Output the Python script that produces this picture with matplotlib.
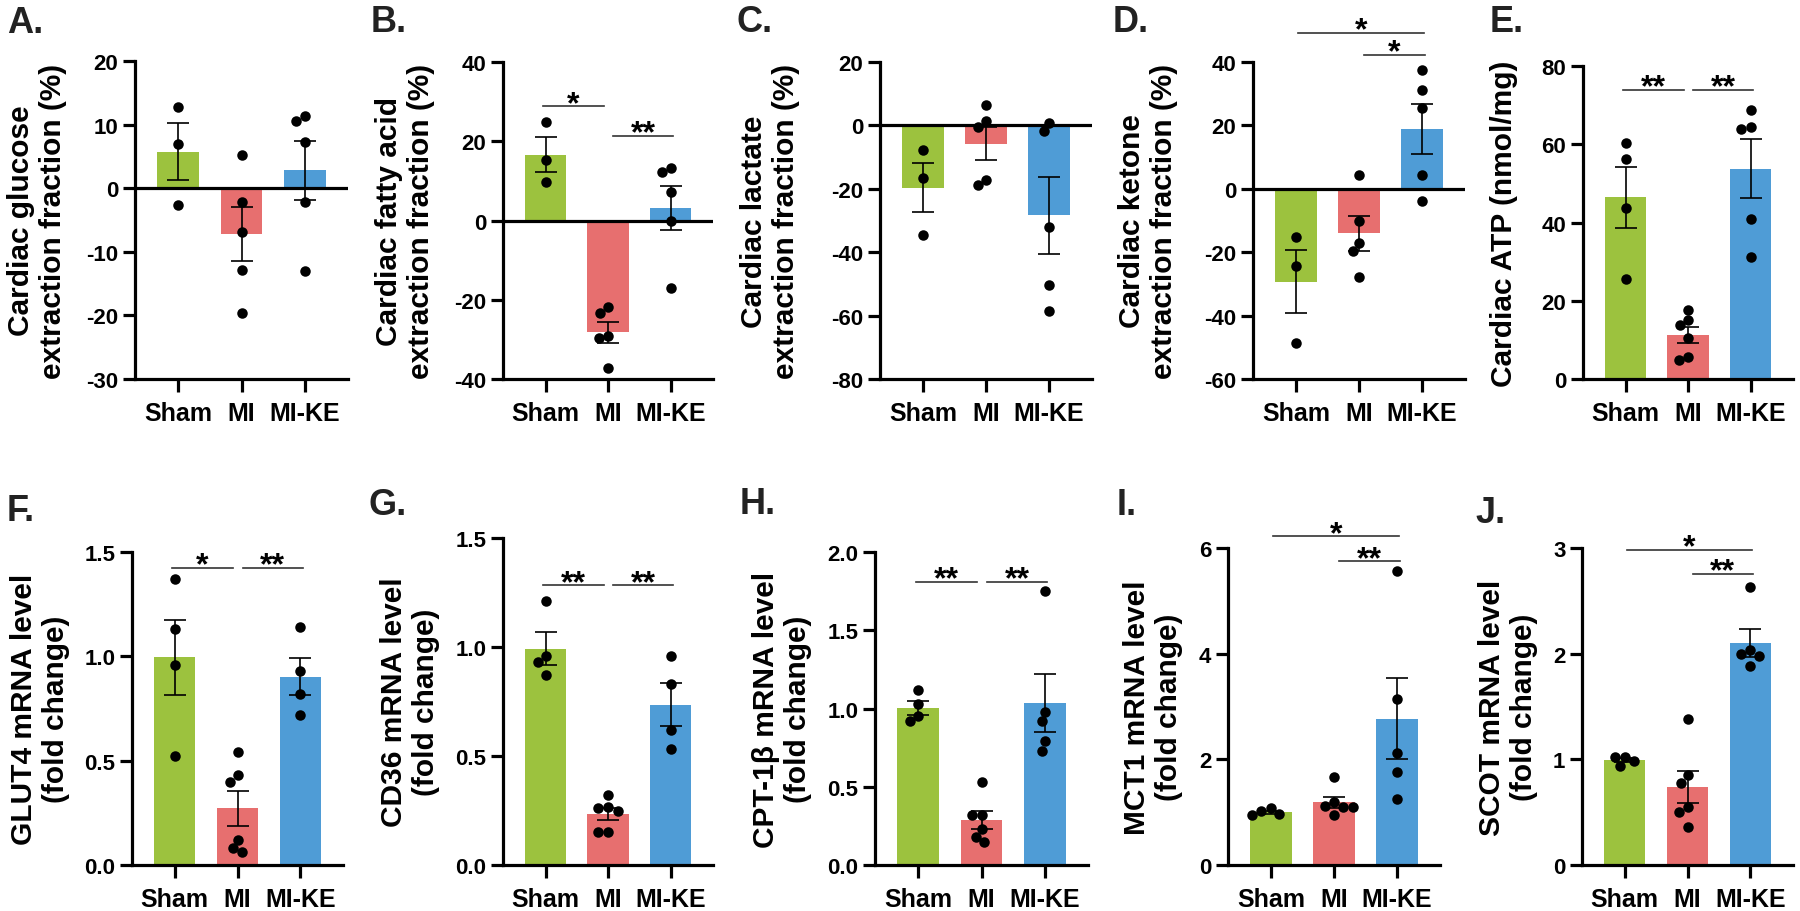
import numpy as np
import matplotlib.pyplot as plt

plt.rcParams['font.family'] = ['Liberation Sans', 'DejaVu Sans']
plt.rcParams['font.weight'] = 'bold'

groups = ["Sham", "MI", "MI-KE"]
colors = ["#9cc23e", "#e76f6f", "#4f9cd6"]

# individual animals per group: Sham, MI, MI-KE
glucose = [[12.8, 7.0, -2.6],
           [5.2, -2.1, -6.9, -12.8, -19.6],
           [11.3, 10.5, 7.3, -2.1, -13.0]]
fatty_acid = [[24.8, 15.2, 9.7],
              [-21.9, -23.3, -29.1, -29.7, -37.1],
              [13.2, 12.2, 7.3, 0.0, -17.1]]
lactate = [[-7.9, -16.5, -34.5],
           [6.3, 1.3, -0.5, -17.2, -18.7],
           [0.8, -1.8, -31.9, -50.3, -58.4]]
ketone = [[-15.3, -24.2, -48.6],
          [4.4, -10.2, -17.1, -19.5, -27.9],
          [37.4, 31.1, 25.5, 4.5, -3.7]]
atp = [[60.3, 56.2, 43.6, 25.5],
       [17.7, 15.1, 13.8, 10.6, 5.5, 4.9],
       [68.7, 63.8, 64.3, 40.9, 31.1]]
glut4 = [[1.37, 1.13, 0.96, 0.52],
         [0.54, 0.43, 0.40, 0.12, 0.08, 0.06],
         [1.14, 0.93, 0.82, 0.72]]
cd36 = [[1.21, 0.96, 0.93, 0.87],
        [0.32, 0.26, 0.265, 0.25, 0.15, 0.15],
        [0.96, 0.83, 0.62, 0.53]]
cpt1b = [[1.12, 1.03, 0.95, 0.92],
         [0.53, 0.32, 0.32, 0.23, 0.18, 0.15],
         [1.75, 0.98, 0.92, 0.79, 0.73]]
mct1 = [[0.94, 1.07, 0.97, 1.02],
        [1.67, 1.19, 1.12, 1.10, 1.10, 0.94],
        [5.57, 3.15, 2.12, 1.76, 1.25]]
scot = [[0.94, 1.02, 0.98, 1.02],
        [1.38, 0.85, 0.78, 0.55, 0.50, 0.36],
        [2.63, 2.03, 2.00, 1.98, 1.88]]

# significance brackets: (group i, group j, height, label)
glucose_sig = []
fatty_acid_sig = [(0, 1, 28.8, "*"), (1, 2, 21.3, "**")]
lactate_sig = []
ketone_sig = [(0, 2, 49.2, "*"), (1, 2, 42.3, "*")]
atp_sig = [(0, 1, 73.9, "**"), (1, 2, 73.9, "**")]
glut4_sig = [(0, 1, 1.425, "*"), (1, 2, 1.425, "**")]
cd36_sig = [(0, 1, 1.283, "**"), (1, 2, 1.283, "**")]
cpt1b_sig = [(0, 1, 1.809, "**"), (1, 2, 1.809, "**")]
mct1_sig = [(0, 2, 6.22, "*"), (1, 2, 5.75, "**")]
scot_sig = [(0, 2, 2.984, "*"), (1, 2, 2.756, "**")]

ylabels = ["Cardiac glucose\nextraction fraction (%)",
           "Cardiac fatty acid\nextraction fraction (%)",
           "Cardiac lactate\nextraction fraction (%)",
           "Cardiac ketone\nextraction fraction (%)",
           "Cardiac ATP (nmol/mg)",
           "GLUT4 mRNA level\n(fold change)",
           "CD36 mRNA level\n(fold change)",
           "CPT-1\u03b2 mRNA level\n(fold change)",
           "MCT1 mRNA level\n(fold change)",
           "SCOT mRNA level\n(fold change)"]
yticks = [[-30, -20, -10, 0, 10, 20], [-40, -20, 0, 20, 40],
          [-80, -60, -40, -20, 0, 20], [-60, -40, -20, 0, 20, 40],
          [0, 20, 40, 60, 80], [0.0, 0.5, 1.0, 1.5], [0.0, 0.5, 1.0, 1.5],
          [0.0, 0.5, 1.0, 1.5, 2.0], [0, 2, 4, 6], [0, 1, 2, 3]]
tickfmt = ["{:.0f}"] * 5 + ["{:.1f}"] * 3 + ["{:.0f}"] * 2
letters = ["A.", "B.", "C.", "D.", "E.", "F.", "G.", "H.", "I.", "J."]
datasets = [glucose, fatty_acid, lactate, ketone, atp, glut4, cd36, cpt1b, mct1, scot]
sigs = [glucose_sig, fatty_acid_sig, lactate_sig, ketone_sig, atp_sig,
        glut4_sig, cd36_sig, cpt1b_sig, mct1_sig, scot_sig]

# layout in pixels: axes left, right, top, bottom ; label offset ; letter x, y
W, H = 1800, 912
boxes = [(135, 348, 62, 380), (503, 713, 63, 380), (880, 1092, 63, 380),
         (1253, 1465, 63, 380), (1583, 1793, 67, 380),
         (132, 343, 553, 866), (503, 713, 539, 866), (875, 1088, 553, 866),
         (1228, 1440, 549, 866), (1582, 1793, 549, 866)]
label_off = [68, 68, 80, 75, 65, 62, 63, 63, 45, 44]
letter_pos = [(7, 6), (371, 5), (737, 5), (1113, 5), (1490, 5),
              (7, 494), (369, 488), (740, 487), (1117, 488), (1476, 496)]

dot_px = 10.5


def swarm(ax, vals, xc):
    bb = ax.get_position()
    wpx = bb.width * W
    hpx = bb.height * H
    x0, x1 = ax.get_xlim()
    y0, y1 = ax.get_ylim()
    sx = wpx / (x1 - x0)
    sy = hpx / (y1 - y0)
    cands = sorted(np.arange(-40, 40.5, 0.5), key=lambda c: (abs(c), c))
    placed = []
    offs = np.zeros(len(vals))
    for i in np.argsort(vals)[::-1]:
        y = vals[i] * sy
        for c in cands:
            if all((c - px) ** 2 + (y - py) ** 2 >= (dot_px * 0.92) ** 2 for px, py in placed):
                break
        placed.append((c, y))
        offs[i] = c
    return xc + offs / sx


def bracket_span(i, j):
    if j - i == 1 and j == 1:
        return i - 0.04, j - 0.07
    if j - i == 1 and i == 1:
        return i + 0.08, j + 0.04
    return i + 0.03, j + 0.03


fig = plt.figure(figsize=(W / 100, H / 100), dpi=100)

for k in range(10):
    l, r, t, b = boxes[k]
    ax = fig.add_axes([l / W, 1 - b / H, (r - l) / W, (b - t) / H])
    data = datasets[k]
    means = [np.mean(g) for g in data]
    sems = [np.std(g, ddof=1) / np.sqrt(len(g)) for g in data]
    x = np.arange(3)
    ax.set_xlim(-0.68, 2.68)
    ax.set_ylim(yticks[k][0], yticks[k][-1])
    ax.bar(x, means, width=0.66, color=colors, zorder=1)
    if yticks[k][0] < 0:
        ax.axhline(0, color="black", lw=2.3, zorder=2.5)
    ax.errorbar(x, means, yerr=sems, fmt="none", ecolor="black",
                elinewidth=1.2, capsize=8, capthick=1.2, zorder=3)
    for gi, g in enumerate(data):
        xs = swarm(ax, np.array(g), gi)
        ax.scatter(xs, g, s=(dot_px * 0.72) ** 2, color="black", lw=0,
                   zorder=4, clip_on=False)
    for i, j, y, txt in sigs[k]:
        a, c = bracket_span(i, j)
        ax.plot([a, c], [y, y], color="#333333", lw=1.2, clip_on=False)
        ax.annotate(txt, xy=((a + c) / 2, y), xytext=(0, -4),
                    textcoords="offset points", ha="center", va="baseline",
                    fontsize=23, fontweight="bold", annotation_clip=False)
    ax.set_xticks(x)
    ax.set_xticklabels(groups, fontsize=18, fontweight="bold")
    ax.set_yticks(yticks[k])
    ax.set_yticklabels([tickfmt[k].format(v) for v in yticks[k]],
                       fontsize=16, fontweight="bold")
    ax.tick_params(axis="both", width=2.3, length=9)
    ax.tick_params(axis="x", pad=7)
    ax.tick_params(axis="y", pad=3)
    for s in ["top", "right"]:
        ax.spines[s].set_visible(False)
    for s in ["left", "bottom"]:
        ax.spines[s].set_linewidth(2.3)
    ax.set_ylabel(ylabels[k], fontsize=21.5, fontweight="bold")
    ax.yaxis.set_label_coords(-label_off[k] / (r - l), 0.5)
    lx, ly = letter_pos[k]
    fig.text(lx / W, 1 - ly / H, letters[k], fontsize=26, fontweight="bold",
             color="#222222", ha="left", va="top")

plt.savefig("out.png", dpi=100)
